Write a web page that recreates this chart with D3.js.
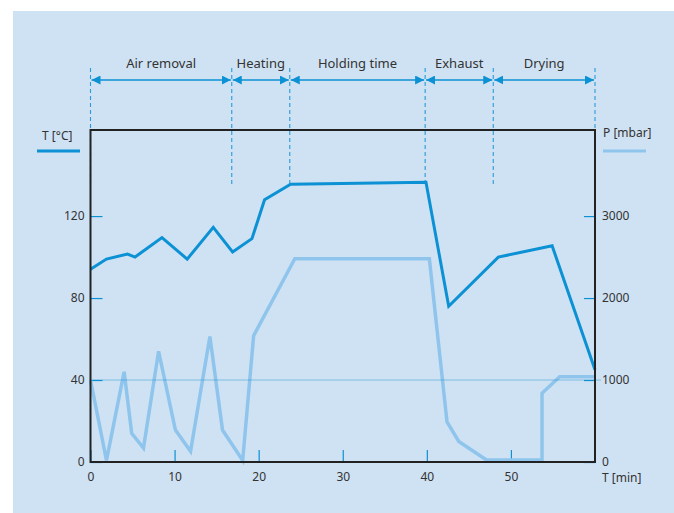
<!DOCTYPE html>
<html lang="en">

<head>
    <meta charset="UTF-8">
    <style>
        body { margin: 0; background: #fff; }
        svg text { font-family: "Noto Sans", "Open Sans", sans-serif; fill: #333; }
    </style>
</head>

<body>
    <script src="https://d3js.org/d3.v7.min.js"></script>
    <script>
        // phases of the cycle (minutes)
        var phaseNames = ['Air removal', 'Heating', 'Holding time', 'Exhaust', 'Drying']
        var phaseBounds = [0, 16.8, 23.7, 39.8, 47.9, 60]

        // temperature curve T [°C]
        var tempTime = [0, 1.9, 4.4, 5.3, 8.5, 11.5, 14.6, 16.9, 19.2, 20.7, 23.8, 39.9, 42.6, 48.5, 54.9, 60]
        var tempVal = [94, 99, 101.5, 100, 109.5, 99, 114.5, 102.5, 109, 128, 135.5, 136.5, 76, 100, 105.5, 45]

        // pressure curve P [mbar]
        var pressTime = [0, 1.9, 4.0, 4.9, 6.3, 8.1, 10.1, 11.9, 14.2, 15.7, 18.1, 19.4, 24.3, 40.3, 42.4, 43.8, 47.1, 53.7, 53.7, 55.8, 60]
        var pressVal = [1000, 20, 1100, 350, 170, 1350, 390, 130, 1530, 390, 20, 1540, 2480, 2480, 490, 250, 25, 25, 840, 1040, 1040]

        var xTicks = [0, 10, 20, 30, 40, 50]
        var tTicks = [0, 40, 80, 120]
        var pTicks = [0, 1000, 2000, 3000]

        var svgWidth = 674, svgHeight = 513
        var dark = '#0b91d4', light = '#8fc5ec'

        var svg = d3.select('body').append('svg')
            .attr('width', svgWidth)
            .attr('height', svgHeight)

        // background panel
        svg.append('rect')
            .attr('x', 13).attr('y', 11)
            .attr('width', svgWidth - 13).attr('height', svgHeight - 11)
            .attr('fill', '#cfe2f3')

        var xScale = d3.scaleLinear().domain([0, 60]).range([90.5, 595])
        var tScale = d3.scaleLinear().domain([0, 162]).range([462, 130])
        var pScale = d3.scaleLinear().domain([0, 4050]).range([462, 130])

        // phase boundaries (dashed)
        svg.selectAll('.bound').data(phaseBounds).enter().append('line')
            .attr('x1', d => xScale(d)).attr('x2', d => xScale(d))
            .attr('y1', 68).attr('y2', 185)
            .attr('stroke', '#2a9ad8')
            .attr('stroke-width', 1.1)
            .attr('stroke-dasharray', '4,3')

        // arrow heads
        var defs = svg.append('defs')
        defs.append('marker')
            .attr('id', 'ah')
            .attr('viewBox', '0 0 10 10')
            .attr('refX', 10).attr('refY', 5)
            .attr('markerWidth', 9).attr('markerHeight', 9)
            .attr('markerUnits', 'userSpaceOnUse')
            .attr('orient', 'auto-start-reverse')
            .append('path')
            .attr('d', 'M0,0L10,5L0,10Z')
            .attr('fill', dark)

        var phases = phaseNames.map((n, i) => ({ name: n, a: phaseBounds[i], b: phaseBounds[i + 1] }))

        svg.selectAll('.arrow').data(phases).enter().append('line')
            .attr('x1', d => xScale(d.a) + 1).attr('x2', d => xScale(d.b) - 1)
            .attr('y1', 80).attr('y2', 80)
            .attr('stroke', dark)
            .attr('stroke-width', 1.4)
            .attr('marker-start', 'url(#ah)')
            .attr('marker-end', 'url(#ah)')

        svg.selectAll('.plabel').data(phases).enter().append('text')
            .attr('x', d => (xScale(d.a) + xScale(d.b)) / 2)
            .attr('y', 68)
            .attr('text-anchor', 'middle')
            .attr('font-size', 13)
            .text(d => d.name)

        // axes
        var xAxis = svg.append('g')
            .attr('transform', 'translate(0,' + tScale(0) + ')')
            .call(d3.axisBottom(xScale).tickValues(xTicks).tickSize(-12).tickPadding(8))
        var tAxis = svg.append('g')
            .attr('transform', 'translate(' + xScale(0) + ',0)')
            .call(d3.axisLeft(tScale).tickValues(tTicks).tickSize(-12).tickPadding(6))
        var pAxis = svg.append('g')
            .attr('transform', 'translate(' + xScale(60) + ',0)')
            .call(d3.axisRight(pScale).tickValues(pTicks).tickFormat(d3.format('d')).tickSize(-11).tickPadding(7))

        ;[xAxis, tAxis, pAxis].forEach(g => {
            g.select('.domain').remove()
            g.selectAll('.tick line').attr('stroke', dark).attr('stroke-width', 1.2)
            g.selectAll('.tick text').attr('font-size', 12).attr('font-family', null).attr('fill', '#333')
        })
        xAxis.selectAll('.tick text').attr('dy', '0.9em')

        // curves
        var line = d3.line().x(d => xScale(d[0])).y(d => d[1])

        svg.append('path')
            .datum(pressTime.map((t, i) => [t, pScale(pressVal[i])]))
            .attr('d', line)
            .attr('fill', 'none')
            .attr('stroke', light)
            .attr('stroke-width', 3.5)

        // 40 °C / 1000 mbar dotted reference
        svg.append('line')
            .attr('x1', xScale(0)).attr('x2', 601)
            .attr('y1', tScale(40)).attr('y2', tScale(40))
            .attr('stroke', '#1a8fd0')
            .attr('stroke-width', 0.9)
            .attr('stroke-dasharray', '1,1')

        svg.append('path')
            .datum(tempTime.map((t, i) => [t, tScale(tempVal[i])]))
            .attr('d', line)
            .attr('fill', 'none')
            .attr('stroke', dark)
            .attr('stroke-width', 3)

        // frame
        svg.append('rect')
            .attr('x', xScale(0)).attr('y', tScale(162))
            .attr('width', xScale(60) - xScale(0))
            .attr('height', tScale(0) - tScale(162))
            .attr('fill', 'none')
            .attr('stroke', '#222')
            .attr('stroke-width', 2)

        // axis titles + legend
        svg.append('text').attr('x', 602).attr('y', 482).attr('font-size', 12).text('T [min]')
        svg.append('text').attr('x', 42).attr('y', 140).attr('font-size', 12).text('T [°C]')
        svg.append('text').attr('x', 603).attr('y', 137).attr('font-size', 12).text('P [mbar]')

        svg.append('line')
            .attr('x1', 37).attr('x2', 80).attr('y1', 151).attr('y2', 151)
            .attr('stroke', dark).attr('stroke-width', 3)
        svg.append('line')
            .attr('x1', 603).attr('x2', 646).attr('y1', 151).attr('y2', 151)
            .attr('stroke', light).attr('stroke-width', 3)
    </script>
</body>

</html>
